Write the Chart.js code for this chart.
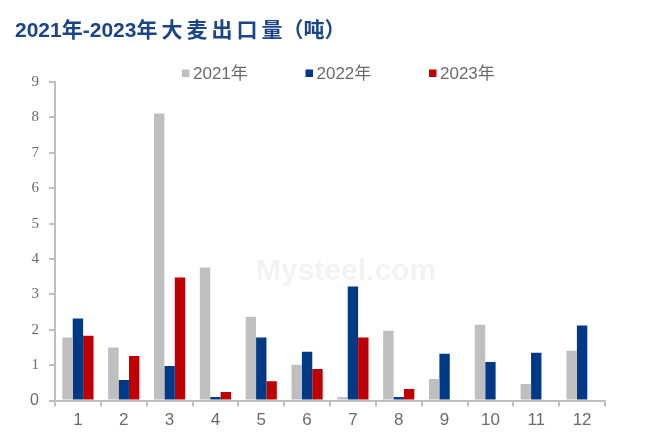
<!DOCTYPE html>
<html>
<head>
<meta charset="utf-8">
<script src="https://cdn.jsdelivr.net/npm/chart.js@4/dist/chart.umd.min.js"></script>
<style>
  body { margin: 0; background: #fff; }
  #wrap { width: 672px; height: 435px; }
</style>
</head>
<body>
<div id="wrap"><canvas id="barleyExports" width="672" height="435"></canvas></div>
<script>
const months = ['1', '2', '3', '4', '5', '6', '7', '8', '9', '10', '11', '12'];
const exports2021 = [1.78, 1.50, 8.11, 3.76, 2.37, 1.01, 0.10, 1.97, 0.61, 2.14, 0.47, 1.41];
const exports2022 = [2.32, 0.58, 0.98, 0.10, 1.78, 1.38, 3.22, 0.10, 1.32, 1.09, 1.35, 2.12];
const exports2023 = [1.83, 1.26, 3.48, 0.24, 0.55, 0.89, 1.78, 0.33, null, null, null, null];
const yTicks = [0, 1, 2, 3, 4, 5, 6, 7, 8, 9];
const titleText = '2021年-2023年大麦出口量（吨）';

const sans = "'Liberation Sans', Arial, 'Noto Sans CJK SC', sans-serif";
const serif = "'Liberation Serif', 'Times New Roman', serif";
const axisGrey = '#bfbfbf';
const labelGrey = '#6b6b6b';

// title: the original puts a little extra space between the Chinese characters
const isHan = ch => /[\u4e00-\u9fff]/.test(ch || '');
const titlePlugin = {
  id: 'titlePlugin',
  afterDraw(chart) {
    const ctx = chart.ctx;
    ctx.save();
    ctx.font = 'bold 21px ' + sans;
    ctx.fillStyle = '#1c4587';
    ctx.textBaseline = 'middle';
    const chars = Array.from(titleText);
    let x = 15;
    chars.forEach((ch, i) => {
      ctx.fillText(ch, x, 31);
      x += ctx.measureText(ch).width + (isHan(ch) && isHan(chars[i + 1]) ? 4 : 0);
    });
    ctx.restore();
  }
};

// legend drawn by hand so the item spacing matches the original
const topLegend = {
  id: 'topLegend',
  afterDraw(chart) {
    const ctx = chart.ctx;
    ctx.save();
    ctx.font = '17px ' + sans;
    ctx.textBaseline = 'middle';
    chart.data.datasets.forEach((ds, i) => {
      const x = 182 + i * 123.5;
      ctx.fillStyle = ds.backgroundColor;
      ctx.fillRect(x, 69.5, 7.5, 7.5);
      ctx.fillStyle = labelGrey;
      ctx.fillText(ds.label, x + 11, 74);
    });
    ctx.restore();
  }
};

const watermark = {
  id: 'watermark',
  beforeDatasetsDraw(chart) {
    const ctx = chart.ctx;
    ctx.save();
    ctx.font = 'bold 30px ' + sans;
    ctx.fillStyle = 'rgba(225,225,225,0.4)';
    ctx.textBaseline = 'middle';
    ctx.fillText('Mysteel.com', 256, 272);
    ctx.restore();
  }
};

const chartData = {
  labels: months,
  datasets: [
    {
      label: '2021年',
      data: exports2021,
      backgroundColor: '#bfbfbf',
    },
    {
      label: '2022年',
      data: exports2022,
      backgroundColor: '#003a86',
    },
    {
      label: '2023年',
      data: exports2023,
      backgroundColor: '#c00000',
    },
  ],
};

const myChart = new Chart(document.getElementById('barleyExports'), {
  type: 'bar',
  data: chartData,
  plugins: [watermark, titlePlugin, topLegend],
  options: {
    responsive: false,
    animation: false,
    layout: {
      padding: { left: 15, right: 67, top: 82, bottom: 0 },
    },
    datasets: {
      bar: {
        categoryPercentage: 0.68,
        barPercentage: 1,
      },
    },
    plugins: {
      legend: { display: false },
      tooltip: { enabled: false },
      title: { display: false },
    },
    scales: {
      x: {
        grid: {
          display: true,
          drawOnChartArea: false,
          drawTicks: true,
          tickLength: 6,
          color: axisGrey,
          lineWidth: 2,
          offset: true,
        },
        border: { display: true, color: axisGrey, width: 2 },
        ticks: {
          color: labelGrey,
          padding: 4,
          font: { family: sans, size: 17 },
        },
      },
      y: {
        min: 0,
        max: 9,
        afterFit(scale) {
          scale.width = 40;
        },
        afterBuildTicks(scale) {
          scale.ticks = yTicks.map(v => ({ value: v }));
        },
        grid: {
          display: true,
          drawOnChartArea: false,
          drawTicks: true,
          tickLength: 6,
          color: axisGrey,
          lineWidth: 2,
        },
        border: { display: true, color: axisGrey, width: 2 },
        ticks: {
          color: labelGrey,
          padding: 10,
          font: (c) => c.tick && c.tick.value === 0
            ? { family: sans, size: 16 }
            : { family: serif, size: 15 },
        },
      },
    },
  },
});
</script>
</body>
</html>
